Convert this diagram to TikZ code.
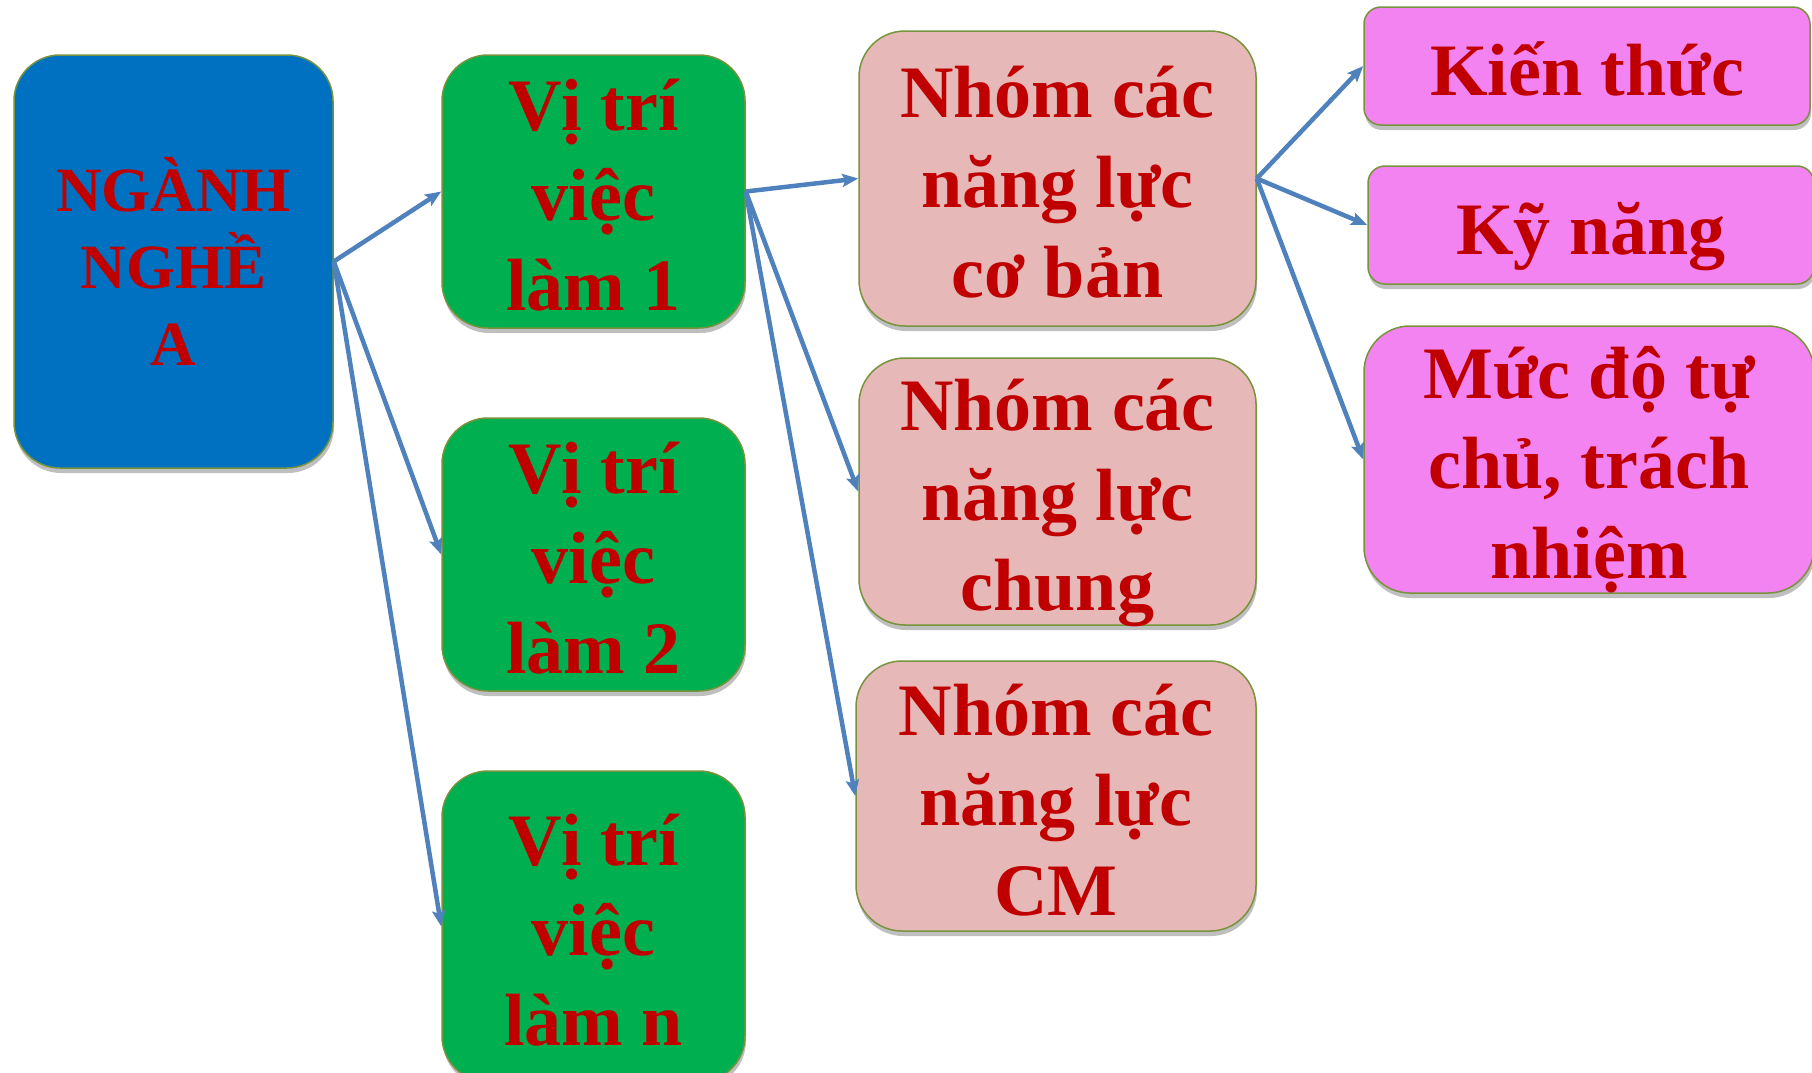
\documentclass[tikz,border=0pt]{standalone}
\usepackage{fontspec}
\setmainfont{Liberation Serif}
\usetikzlibrary{arrows.meta,shadows}
\definecolor{chudo}{HTML}{C00000}
\definecolor{vienxanh}{HTML}{77933C}
\definecolor{xanhduong}{HTML}{0070C0}
\definecolor{xanhla}{HTML}{00B050}
\definecolor{hongnhat}{HTML}{E6B9B8}
\definecolor{hongtim}{HTML}{F383F0}
\definecolor{muiten}{HTML}{4F81BD}

\begin{document}
\begin{tikzpicture}[x=1pt, y=-1pt, >={Stealth[length=16pt, width=13pt, inset=3pt]},
    every node/.style={align=center, text=chudo, inner sep=0pt, draw=vienxanh, line width=1.5pt,
      drop shadow={shadow xshift=1pt, shadow yshift=-5pt, opacity=.25, fill=black},
      font=\bfseries\fontsize{74}{90}\selectfont},
    hop/.style={rounded corners=46pt},
    hopnho/.style={rounded corners=17pt},
    badong/.style={text height=238pt, text depth=0pt},
    motdong/.style={text height=58pt, text depth=0pt},
    mui/.style={->, line width=4.5pt, draw=muiten}]
    \useasboundingbox (0,0) rectangle (1812,1072);

    \node (nganh) [hop, fill=xanhduong, minimum width=319pt, minimum height=413pt,
      font=\bfseries\fontsize{63}{77}\selectfont] at (173.5,261.5) {NGÀNH\\NGHỀ\\A};

    \node (vt1) [hop, badong, fill=xanhla, minimum width=303pt, minimum height=273pt] at (593.5,191.5) {Vị trí\\việc\\làm 1};
    \node (vt2) [hop, badong, fill=xanhla, minimum width=303pt, minimum height=273pt] at (593.5,554.5) {Vị trí\\việc\\làm 2};
    \node (vtn) [hop, badong, fill=xanhla, minimum width=303pt, minimum height=311pt] at (593.5,926.5) {Vị trí\\việc\\làm n};

    \node (nl1) [hop, badong, fill=hongnhat, minimum width=397pt, minimum height=295pt] at (1057.5,178.5) {Nhóm các\\năng lực\\cơ bản};
    \node (nl2) [hop, badong, fill=hongnhat, minimum width=397pt, minimum height=267pt] at (1057.5,491.5) {Nhóm các\\năng lực\\chung};
    \node (nl3) [hop, badong, fill=hongnhat, minimum width=400pt, minimum height=270pt] at (1056,796) {Nhóm các\\năng lực\\CM};

    \node (kt) [hopnho, motdong, fill=hongtim, minimum width=446pt, minimum height=118pt] at (1587,66) {Kiến thức};
    \node (kn) [hopnho, motdong, fill=hongtim, minimum width=446pt, minimum height=118pt] at (1591,225) {Kỹ năng};
    \node (md) [hop, badong, fill=hongtim, minimum width=450pt, minimum height=267pt] at (1589,459.5) {Mức độ tự\\chủ, trách\\nhiệm};

    % nganh -> vi tri
    \draw[mui] (nganh.east) to (vt1.west);
    \draw[mui] (nganh.east) to (vt2.west);
    \draw[mui] (nganh.east) to (vtn.west);
    % vi tri 1 -> nhom nang luc
    \draw[mui] (vt1.east) to (nl1.west);
    \draw[mui] (vt1.east) to (nl2.west);
    \draw[mui] (vt1.east) to (nl3.west);
    % co ban -> thanh phan
    \draw[mui] (nl1.east) to (kt.west);
    \draw[mui] (nl1.east) to (kn.west);
    \draw[mui] (nl1.east) to (md.west);
\end{tikzpicture}
\end{document}
